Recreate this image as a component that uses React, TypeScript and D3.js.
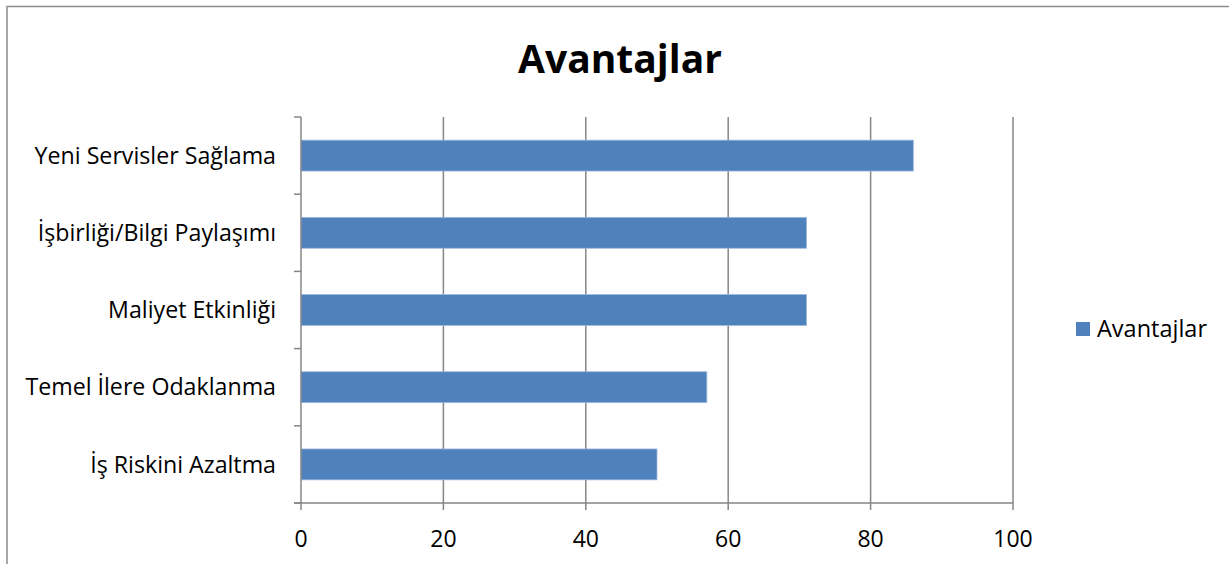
import React from "react";
import * as d3 from "d3";

const categories = [
  "Yeni Servisler Sağlama",
  "İşbirliği/Bilgi Paylaşımı",
  "Maliyet Etkinliği",
  "Temel İlere Odaklanma",
  "İş Riskini Azaltma",
];
const values = [86, 71, 71, 57, 50];
const xTicks = [0, 20, 40, 60, 80, 100];
const seriesName = "Avantajlar";
const title = "Avantajlar";

const W = 1229;
const H = 564;
const FONT = "'Open Sans', 'Liberation Sans', sans-serif";

export default function App() {
  const x = d3.scaleLinear().domain([0, 100]).range([301, 1013]);
  const y = d3
    .scaleBand<string>()
    .domain(categories)
    .range([117, 503])
    .paddingInner(0.6)
    .paddingOuter(0.3);
  const boundaries = d3.range(categories.length + 1).map((i) => 117 + (i * (503 - 117)) / categories.length);
  const gridColor = "#868686";

  return (
    <svg
      width={W}
      height={H}
      style={{ position: "absolute", left: 0, top: 0, background: "#fff" }}
      fontFamily={FONT}
    >
      <rect x={0} y={0} width={W} height={H} fill="#fff" />
      <rect x={7} y={6.5} width={W + 20} height={H + 20} fill="none" stroke="#8c8c8c" strokeWidth={1.5} />
      <text x={620} y={73} textAnchor="middle" fontSize={39} fontWeight="bold" fill="#000">
        {title}
      </text>
      {xTicks.slice(1).map((t) => (
        <line key={"g" + t} x1={x(t)} x2={x(t)} y1={117} y2={510} stroke={gridColor} strokeWidth={1.5} />
      ))}
      {categories.map((c, i) => (
        <rect
          key={c}
          x={x(0)}
          y={y(c)!}
          width={x(values[i]) - x(0)}
          height={y.bandwidth()}
          fill="#4F81BD"
          stroke="#9cb8dc"
          strokeWidth={0.8}
        />
      ))}
      <line x1={x(0)} x2={x(0)} y1={117} y2={510} stroke={gridColor} strokeWidth={1.5} />
      {boundaries.map((b, i) => (
        <line key={"yt" + i} x1={294} x2={x(0)} y1={b} y2={b} stroke={gridColor} strokeWidth={1.5} />
      ))}
      <line x1={294} x2={x(100)} y1={503} y2={503} stroke={gridColor} strokeWidth={1.5} />
      {xTicks.map((t) => (
        <text key={"xt" + t} x={x(t)} y={547} textAnchor="middle" fontSize={23} fill="#000">
          {t}
        </text>
      ))}
      {categories.map((c) => (
        <text
          key={"yl" + c}
          x={276}
          y={y(c)! + y.bandwidth() / 2}
          dy="0.35em"
          textAnchor="end"
          fontSize={23.2}
          fill="#000"
        >
          {c}
        </text>
      ))}
      <rect x={1076} y={322} width={14} height={14} fill="#4F81BD" />
      <text x={1097} y={329} dy="0.35em" fontSize={23.5} fill="#000">
        {seriesName}
      </text>
    </svg>
  );
}
